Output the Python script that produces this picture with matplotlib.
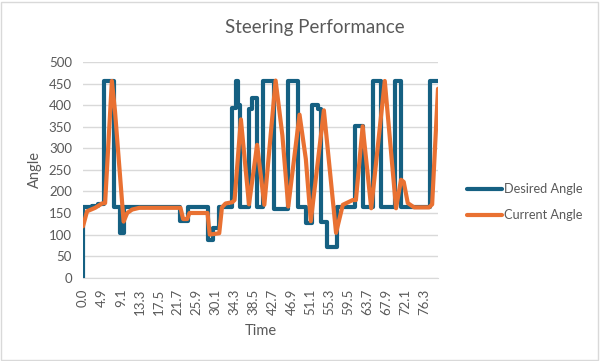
import matplotlib
matplotlib.use("Agg")
import matplotlib.pyplot as plt
from matplotlib.patches import Rectangle

plt.rcParams['font.family'] = ['Lato', 'DejaVu Sans']

# Category axis labels (every 42nd sample)
tick_labels = ["0.0", "4.9", "9.1", "13.3", "17.5", "21.7", "25.9", "30.1", "34.3",
               "38.5", "42.7", "46.9", "51.1", "55.3", "59.5", "63.7", "67.9", "72.1", "76.3"]
tick_step = 42
n_samples = 788

# Desired angle: sample index where a new value starts, and the value
desired_idx = [0, 1, 20, 33, 46, 68, 82, 90, 216, 233, 277, 289, 302, 331, 339, 344, 348,
               368, 374, 385, 400, 424, 455, 476, 494, 507, 520, 527, 540, 563, 602, 620,
               643, 661, 691, 705, 769, 787]
desired_val = [0, 163, 166, 170, 456, 163, 104, 163, 131, 163, 88, 116, 163, 394, 456, 401, 163,
               390, 417, 163, 456, 160, 456, 163, 126, 400, 390, 130, 72, 163, 351, 163,
               456, 163, 456, 163, 456, 456]

# Current angle: sample index and value
current_idx = [0, 9, 27, 42, 49, 64, 71, 90, 98, 109, 125, 216, 222, 231, 236, 276, 281, 302,
               308, 316, 331, 336, 350, 368, 386, 402, 427, 442, 455, 480, 494, 505, 534, 561,
               576, 598, 605, 620, 639, 669, 694, 705, 711, 720, 734, 767, 774, 787]
current_val = [119, 154, 162, 172, 173, 456, 385, 130, 150, 158, 162, 162, 136, 136, 150, 150, 100, 103,
               163, 172, 175, 180, 367, 170, 308, 169, 457, 330, 165, 378, 275, 131, 388, 104,
               169, 180, 180, 351, 161, 456, 161, 227, 222, 173, 163, 163, 170, 438]

W, H = 600, 361
fig = plt.figure(figsize=(W / 100, H / 100), dpi=100)
fig.patch.set_facecolor("white")
fig.add_artist(Rectangle((0.5 / W, 1.5 / H), (W - 3) / W, (H - 3) / H, transform=fig.transFigure,
                         fill=False, edgecolor="#D9D9D9", linewidth=1.0))

left, right, top, bottom = 83, 438, 62, 277.7
ax = fig.add_axes([left / W, 1 - bottom / H, (right - left) / W, (bottom - top) / H])

blue = "#156082"
orange = "#E97132"
ax.plot(desired_idx, desired_val, drawstyle="steps-post", color=blue, lw=3.0,
        solid_joinstyle="round", solid_capstyle="round", label="Desired Angle", zorder=3)
ax.plot(current_idx, current_val, color=orange, lw=3.0, solid_joinstyle="round",
        solid_capstyle="round", label="Current Angle", zorder=4)

ax.set_xlim(0, n_samples - 1)
ax.set_ylim(0, 500)
ax.set_yticks(range(0, 501, 50))
ax.set_xticks([i * tick_step for i in range(len(tick_labels))])
ax.set_xticklabels(tick_labels, rotation=90)
ax.grid(axis="y", color="#D9D9D9", linewidth=1.0)
ax.set_axisbelow(True)
for s in ["top", "right", "left"]:
    ax.spines[s].set_visible(False)
ax.spines["bottom"].set_color("#D9D9D9")
ax.tick_params(axis="both", length=0, labelsize=9.5, colors="#595959")
ax.tick_params(axis="x", pad=8)
ax.tick_params(axis="y", pad=8)

ax.set_xlabel("Time", fontsize=10.5, color="#595959", labelpad=6)
ax.set_ylabel("Angle", fontsize=10.5, color="#595959", labelpad=5)

fig.text(315 / W, 1 - 27 / H, "Steering Performance", ha="center", va="center",
         fontsize=13.5, color="#595959")

leg = ax.legend(loc="center left", bbox_to_anchor=(455 / W, 1 - 202 / H),
                bbox_transform=fig.transFigure, frameon=False, fontsize=9.2,
                handlelength=2.8, handletextpad=0.1, labelspacing=1.1)
for t in leg.get_texts():
    t.set_color("#595959")

fig.savefig("out.png", dpi=100)
